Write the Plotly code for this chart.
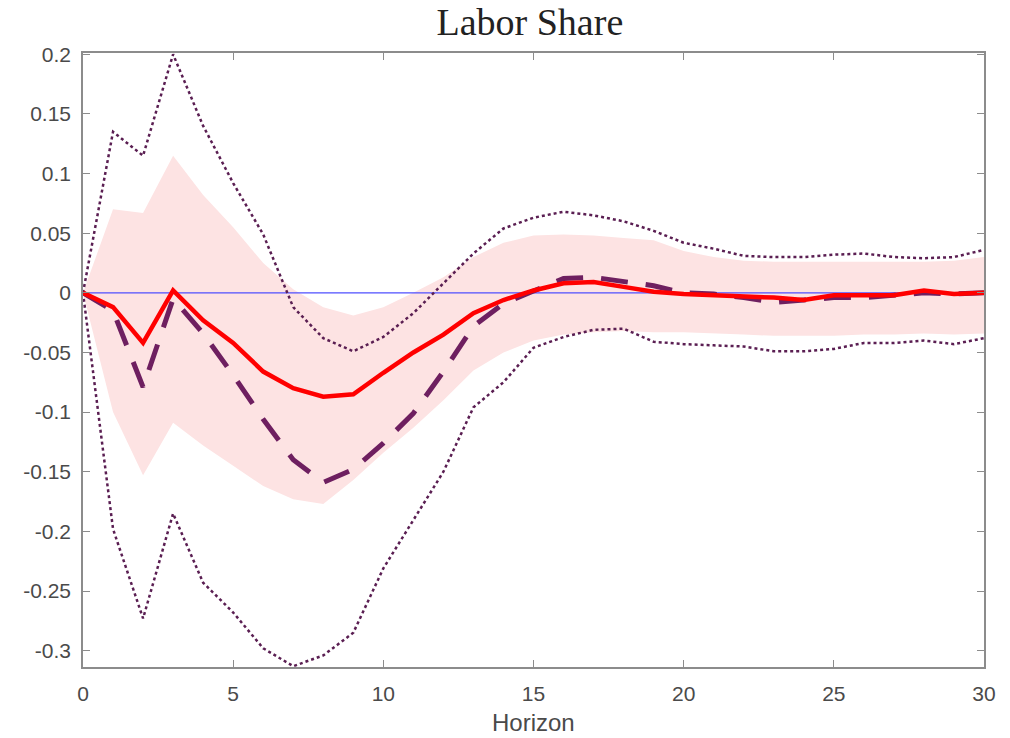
import plotly.graph_objects as go

horizon = list(range(31))

point_est = [0, -0.012, -0.042, 0.002, -0.023, -0.042, -0.066, -0.080, -0.087, -0.085,
             -0.067, -0.050, -0.035, -0.017, -0.006, 0.002, 0.008, 0.009, 0.005, 0.001,
             -0.001, -0.002, -0.003, -0.004, -0.006, -0.002, -0.002, -0.002, 0.002, -0.001, 0.0]

alt_est = [0, -0.015, -0.079, -0.005, -0.034, -0.069, -0.106, -0.140, -0.159, -0.148,
           -0.126, -0.101, -0.066, -0.028, -0.009, 0.002, 0.012, 0.013, 0.010, 0.006,
           0.0, -0.001, -0.004, -0.008, -0.006, -0.004, -0.004, -0.002, 0.0, -0.001, 0.0]

band_upper = [0, 0.070, 0.067, 0.115, 0.082, 0.055, 0.025, 0.003, -0.012, -0.019,
              -0.012, 0.0, 0.013, 0.030, 0.042, 0.048, 0.049, 0.048, 0.046, 0.044,
              0.035, 0.030, 0.027, 0.026, 0.026, 0.026, 0.026, 0.026, 0.026, 0.027, 0.030]

band_lower = [0, -0.100, -0.153, -0.109, -0.128, -0.145, -0.162, -0.173, -0.177, -0.157,
              -0.134, -0.113, -0.090, -0.065, -0.050, -0.040, -0.035, -0.033, -0.032, -0.033,
              -0.033, -0.034, -0.035, -0.036, -0.036, -0.036, -0.035, -0.035, -0.034, -0.035, -0.034]

outer_upper = [0, 0.135, 0.115, 0.200, 0.140, 0.092, 0.049, -0.012, -0.038, -0.049,
               -0.037, -0.017, 0.008, 0.033, 0.054, 0.063, 0.068, 0.065, 0.060, 0.052,
               0.042, 0.037, 0.031, 0.030, 0.030, 0.032, 0.033, 0.030, 0.029, 0.030, 0.036]

outer_lower = [0, -0.198, -0.273, -0.185, -0.243, -0.268, -0.298, -0.313, -0.304, -0.285,
               -0.231, -0.190, -0.150, -0.096, -0.075, -0.046, -0.037, -0.031, -0.030, -0.041,
               -0.043, -0.044, -0.045, -0.049, -0.049, -0.047, -0.042, -0.042, -0.040, -0.043, -0.038]

x_ticks = [0, 5, 10, 15, 20, 25, 30]
y_ticks = [-0.3, -0.25, -0.2, -0.15, -0.1, -0.05, 0, 0.05, 0.1, 0.15, 0.2]
y_ticktext = ["-0.3", "-0.25", "-0.2", "-0.15", "-0.1", "-0.05", "0", "0.05", "0.1", "0.15", "0.2"]

band_color = "#fde3e3"
purple = "#6e1f60"
dot_color = "#5a1e52"

fig = go.Figure()

# shaded band
fig.add_trace(go.Scatter(x=horizon + horizon[::-1], y=band_upper + band_lower[::-1],
                         fill="toself", fillcolor=band_color, line=dict(width=0),
                         mode="lines", hoverinfo="skip", showlegend=False))

# zero line
fig.add_trace(go.Scatter(x=[horizon[0], horizon[-1]], y=[0, 0], mode="lines",
                         line=dict(color="#4f4fff", width=1.2), showlegend=False))

# outer dotted bands
fig.add_trace(go.Scatter(x=horizon, y=outer_upper, mode="lines",
                         line=dict(color=dot_color, width=2.5, dash="dot"), showlegend=False))
fig.add_trace(go.Scatter(x=horizon, y=outer_lower, mode="lines",
                         line=dict(color=dot_color, width=2.5, dash="dot"), showlegend=False))

# dashed alternative
fig.add_trace(go.Scatter(x=horizon, y=alt_est, mode="lines",
                         line=dict(color=purple, width=5, dash="27px,18px"), showlegend=False))

# solid point estimate
fig.add_trace(go.Scatter(x=horizon, y=point_est, mode="lines",
                         line=dict(color="#ff0000", width=4.5), showlegend=False))

axis_common = dict(showline=True, linecolor="#8c8c8c", linewidth=1.5, mirror="ticks",
                   ticks="inside", ticklen=7, tickcolor="#8c8c8c", tickwidth=1,
                   showgrid=False, zeroline=False, automargin=False,
                   tickfont=dict(family="Liberation Sans, Arial, sans-serif", size=21, color="#4a4a4a"))

fig.update_layout(
    width=1010, height=738,
    margin=dict(l=83, r=26, t=53, b=71, autoexpand=False),
    paper_bgcolor="white", plot_bgcolor="white",
    title=dict(text="Labor Share", x=0.496, xanchor="center", xref="paper",
               y=1 - 22 / 738, yanchor="middle", yref="container",
               font=dict(family="Liberation Serif, Times New Roman, serif", size=38, color="#222222")),
    xaxis=dict(range=[0, 30], tickvals=x_ticks, ticktext=[str(t) for t in x_ticks],
               ticklabelstandoff=7, **axis_common),
    yaxis=dict(range=[-0.3137, 0.2011], tickvals=y_ticks, ticktext=y_ticktext,
               ticklabelstandoff=6, **axis_common),
    annotations=[dict(text="Horizon", xref="paper", yref="paper", x=0.5, y=-55 / 614,
                      xanchor="center", yanchor="middle", showarrow=False,
                      font=dict(family="Liberation Sans, Arial, sans-serif", size=24, color="#4a4a4a"))],
)

fig.write_html("out.html")
